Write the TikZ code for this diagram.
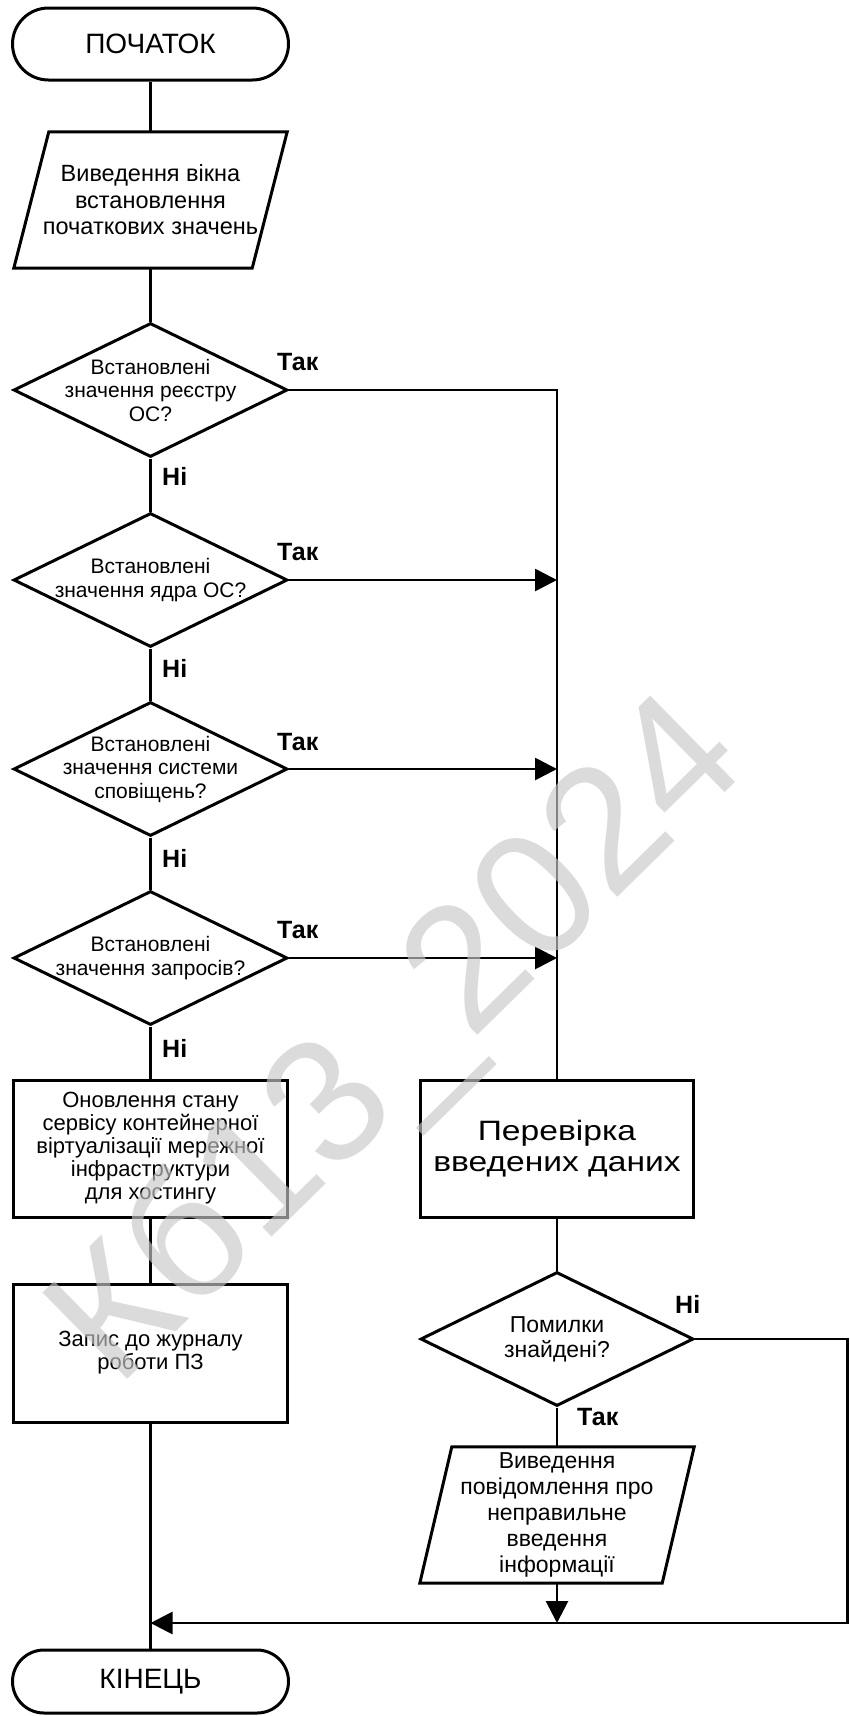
\documentclass[tikz,border=0pt]{standalone}
\usepackage{fontspec}
\setmainfont{Liberation Sans}
\newfontfamily\widesans[FakeStretch=1.2]{Liberation Sans}
\usetikzlibrary{arrows.meta,shapes.geometric}
\begin{document}
\begin{tikzpicture}[x=1pt,y=-1pt,
  shapeline/.style={draw=black, line width=3pt},
  conn/.style={draw=black, line width=2.8pt},
  arr/.style={conn, -{Triangle[length=22pt,width=22pt]}},
  term/.style={shapeline, rectangle, rounded corners=#1, inner sep=0pt, font={\fontsize{28pt}{30pt}\selectfont}},
  iobox/.style={rectangle, inner sep=0pt, align=center},
  procbox/.style={shapeline, rectangle, inner sep=0pt, align=center},
  dia/.style={shapeline, diamond, inner sep=0pt, minimum width=274pt, minimum height=134pt},
  dtext/.style={align=center, inner sep=0pt, font={\fontsize{21pt}{23.5pt}\selectfont}},
  lbl/.style={inner sep=0pt, font={\bfseries\fontsize{25pt}{25pt}\selectfont}},
  wm/.style={inner sep=0pt, text=black!22, text opacity=0.65, font={\fontsize{176pt}{176pt}\selectfont}}
]
\useasboundingbox (0,0) rectangle (849,1716);

% terminators
\node[term=36pt, minimum width=276pt, minimum height=72pt] (t1) at (150.5,44) {ПОЧАТОК};
\node[term=31.5pt, minimum width=276pt, minimum height=63pt] (t2) at (150.5,1681.5) {КІНЕЦЬ};

% input window
\node[iobox, minimum width=273pt, minimum height=136pt, font={\fontsize{23.5pt}{26.5pt}\selectfont}] (p1) at (150.5,200) {Виведення вікна\\встановлення\\початкових значень};
\draw[shapeline] ([xshift=35pt]p1.north west) -- (p1.north east) -- ([xshift=-35pt]p1.south east) -- (p1.south west) -- cycle;

% decisions
\node[dia, label={[dtext]center:{Встановлені\\значення реєстру\\ОС?}}] (d1) at (150.5,390) {};
\node[dia, label={[dtext]center:{Встановлені\\значення ядра ОС?}}] (d2) at (150.5,580) {};
\node[dia, label={[dtext]center:{Встановлені\\значення системи\\сповіщень?}}] (d3) at (150.5,769) {};
\node[dia, label={[dtext]center:{Встановлені\\значення запросів?}}] (d4) at (150.5,958) {};

% process boxes left
\node[procbox, minimum width=274pt, minimum height=137pt, font={\fontsize{22pt}{23pt}\selectfont}] (b1) at (150.5,1148.5) {Оновлення стану\\сервісу контейнерної\\віртуалізації мережної\\інфраструктури\\для хостингу};
\node[procbox, minimum width=274pt, minimum height=138pt, font={\fontsize{22pt}{23pt}\selectfont}] (b2) at (150.5,1353) {Запис до журналу\\роботи ПЗ};

% right column
\node[procbox, minimum width=273pt, minimum height=137pt, font={\widesans\fontsize{28pt}{31pt}\selectfont}] (b3) at (557,1148.5) {Перевірка\\введених даних};
\node[dia, minimum width=273pt, label={[dtext, font={\fontsize{23pt}{25pt}\selectfont}]center:{Помилки\\знайдені?}}] (d5) at (557,1339) {};
\node[iobox, minimum width=274pt, minimum height=136pt, font={\fontsize{23pt}{26pt}\selectfont}] (p2) at (557,1515) {Виведення\\повідомлення про\\неправильне\\введення\\інформації};
\draw[shapeline] ([xshift=32pt]p2.north west) -- (p2.north east) -- ([xshift=-32pt]p2.south east) -- (p2.south west) -- cycle;

% labels
\node[lbl, anchor=base west] (y1) at (277,370) {Так};
\node[lbl, anchor=base west] (y2) at (277,560) {Так};
\node[lbl, anchor=base west] (y3) at (277,750) {Так};
\node[lbl, anchor=base west] (y4) at (277,938) {Так};
\node[lbl, anchor=base west] (n1) at (162,485) {Ні};
\node[lbl, anchor=base west] (n2) at (162,677) {Ні};
\node[lbl, anchor=base west] (n3) at (162,867) {Ні};
\node[lbl, anchor=base west] (n4) at (162,1057) {Ні};
\node[lbl, anchor=base west] (n5) at (675,1313) {Ні};
\node[lbl, anchor=base west] (y5) at (577,1425) {Так};

% coordinates
\coordinate (jp) at (557,1623);
\coordinate (rc) at (847.5,1623);

% connectors left column
\draw[conn] (t1.south) -- (p1.north);
\draw[conn] (p1.south) -- (d1.north);
\draw[conn] (d1.south) -- (d2.north);
\draw[conn] (d2.south) -- (d3.north);
\draw[conn] (d3.south) -- (d4.north);
\draw[conn] (d4.south) -- (b1.north);
\draw[conn] (b1.south) -- (b2.north);
\draw[conn] (b2.south) -- (t2.north);

% connectors to right column
\draw[conn] (d1.east) -| (b3.north);
\draw[arr] (d2.east) -- (d2.east -| b3.north);
\draw[arr] (d3.east) -- (d3.east -| b3.north);
\draw[arr] (d4.east) -- (d4.east -| b3.north);
\draw[conn] (b3.south) -- (d5.north);
\draw[conn] (d5.south) -- (p2.north);
\draw[arr] (p2.south) -- (jp);
\draw[arr] (d5.east) -| (rc) -- (rc -| t2.north);

% watermark
\node[wm, rotate=44.5, anchor=base] (wmark) at (434,1078) {Кб13\_2024};
\end{tikzpicture}
\end{document}
